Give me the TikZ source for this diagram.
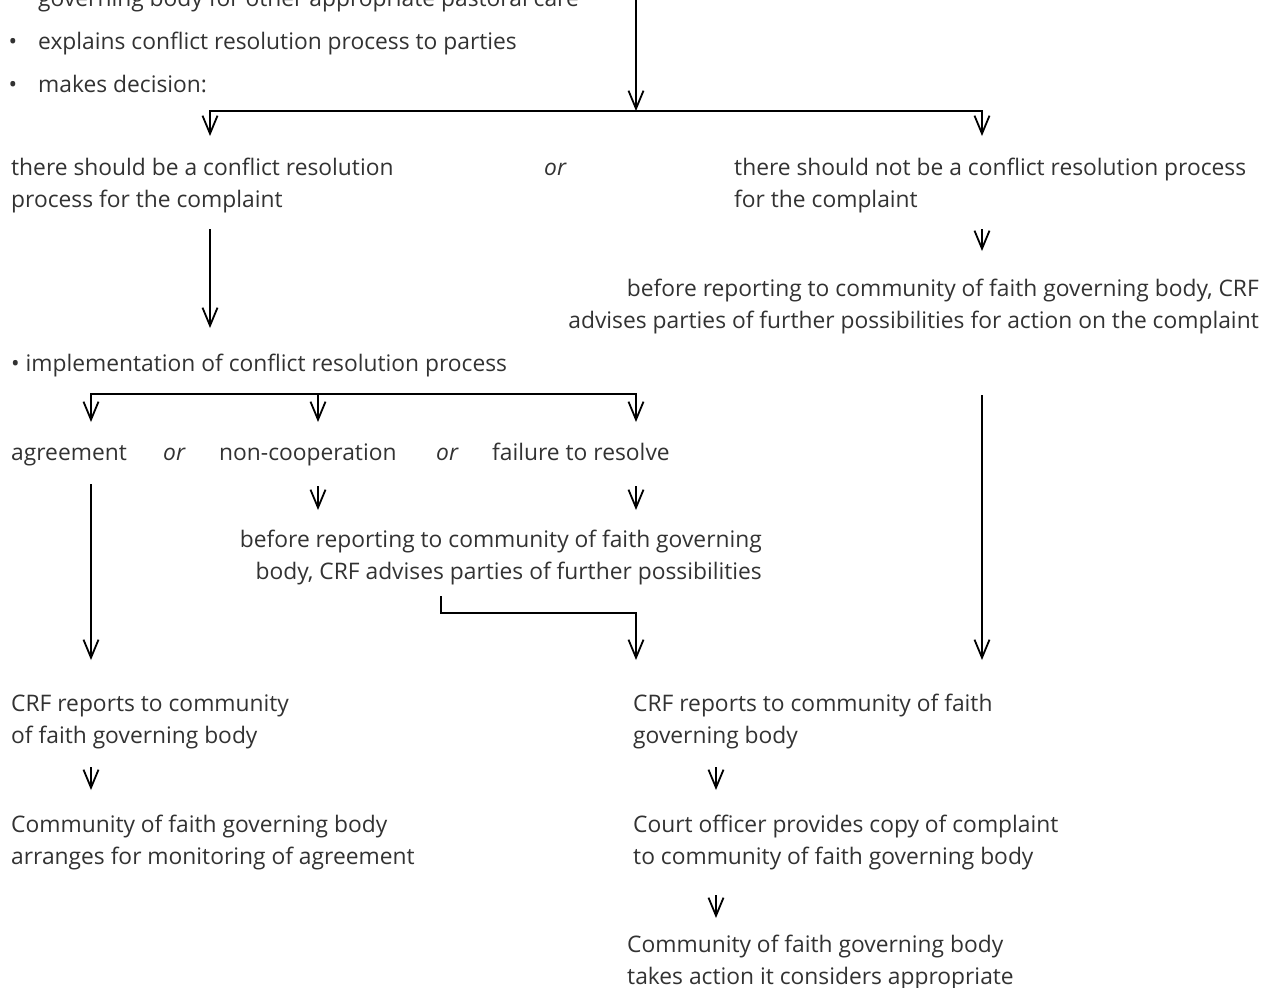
\documentclass[tikz,border=0pt]{standalone}
\usepackage{fontspec}
\setmainfont{Open Sans}
\usetikzlibrary{arrows.meta}
\definecolor{txtc}{RGB}{50,50,50}
\begin{document}
\begin{tikzpicture}[x=1pt,y=-1pt,
  txt/.style={inner sep=0pt, text=txtc, font=\fontsize{22.8}{32}\selectfont, align=left, anchor=base west},
  txtr/.style={txt, align=right, anchor=base east},
  arr/.style={-{Straight Barb[length=18pt,width=15pt]}, line width=1.8pt, draw=black},
  ln/.style={line width=1.8pt, draw=black}]
\useasboundingbox (0,0) rectangle (1270,988);
\clip (0,0) rectangle (1270,988);

% text nodes (multi-line nodes are placed by the baseline of their last line)
\node[txt] (t0) at (38,6) {governing body for other appropriate pastoral care};
\node[txt, anchor=base] (b1) at (13,49) {•};
\node[txt] (t1) at (38,49) {explains conflict resolution process to parties};
\node[txt, anchor=base] (b2) at (13,92) {•};
\node[txt] (t2) at (38,92) {makes decision:};
\node[txt] (yes) at (11,207) {there should be a conflict resolution\\process for the complaint};
\node[txt] (or1) at (544,175) {\itshape or};
\node[txt] (no) at (734,207) {there should not be a conflict resolution process\\for the complaint};
\node[txtr] (noadv) at (1259,328) {before reporting to community of faith governing body, CRF\\advises parties of further possibilities for action on the complaint};
\node[txt] (impl) at (11,371) {• implementation of conflict resolution process};
\node[txt] (agr) at (11,460) {agreement};
\node[txt] (or2) at (163,460) {\itshape or};
\node[txt] (nonc) at (219,460) {non-cooperation};
\node[txt] (or3) at (436,460) {\itshape or};
\node[txt] (fail) at (492,460) {failure to resolve};
\node[txtr] (adv) at (762,579) {before reporting to community of faith governing\\body, CRF advises parties of further possibilities};
\node[txt] (rep1) at (11,743) {CRF reports to community\\of faith governing body};
\node[txt] (mon) at (11,864) {Community of faith governing body\\arranges for monitoring of agreement};
\node[txt] (rep2) at (633,743) {CRF reports to community of faith\\governing body};
\node[txt] (court) at (633,864) {Court officer provides copy of complaint\\to community of faith governing body};
\node[txt] (act) at (627,984) {Community of faith governing body\\takes action it considers appropriate};

% connector points
\coordinate (top) at (636,0);
\coordinate (j1) at (636,111);
\coordinate (yesin) at (210,136);
\coordinate (noin) at (982,136);
\coordinate (yout) at (210,229);
\coordinate (implin) at (210,328);
\coordinate (nout) at (982,229);
\coordinate (noadvin) at (982,251);
\coordinate (noadvout) at (982,395);
\coordinate (rep2inR) at (982,660);
\coordinate (j2) at (318,394);
\coordinate (agrin) at (91,422);
\coordinate (noncin) at (318,422);
\coordinate (failin) at (636,422);
\coordinate (noncout) at (318,486);
\coordinate (noncadv) at (318,510);
\coordinate (failout) at (636,486);
\coordinate (failadv) at (636,510);
\coordinate (agrout) at (91,484);
\coordinate (rep1in) at (91,660);
\coordinate (advout) at (441,596);
\coordinate (advmid) at (441,613);
\coordinate (rep2in) at (636,660);
\coordinate (rep1out) at (91,767);
\coordinate (monin) at (91,790);
\coordinate (rep2out) at (716,767);
\coordinate (courtin) at (716,790);
\coordinate (courtout) at (716,895);
\coordinate (actin) at (716,918);

% connectors
\draw[arr] (top) -- (j1);
\draw[arr] (j1) -| (yesin);
\draw[arr] (j1) -| (noin);
\draw[arr] (yout) -- (implin);
\draw[arr] (nout) -- (noadvin);
\draw[arr] (noadvout) -- (rep2inR);
\draw[arr] (j2) -| (agrin);
\draw[arr] (j2) -| (failin);
\draw[arr] (j2) -- (noncin);
\draw[arr] (noncout) -- (noncadv);
\draw[arr] (failout) -- (failadv);
\draw[arr] (agrout) -- (rep1in);
\draw[arr] (advout) -- (advmid) -| (rep2in);
\draw[arr] (rep1out) -- (monin);
\draw[arr] (rep2out) -- (courtin);
\draw[arr] (courtout) -- (actin);
\end{tikzpicture}
\end{document}
